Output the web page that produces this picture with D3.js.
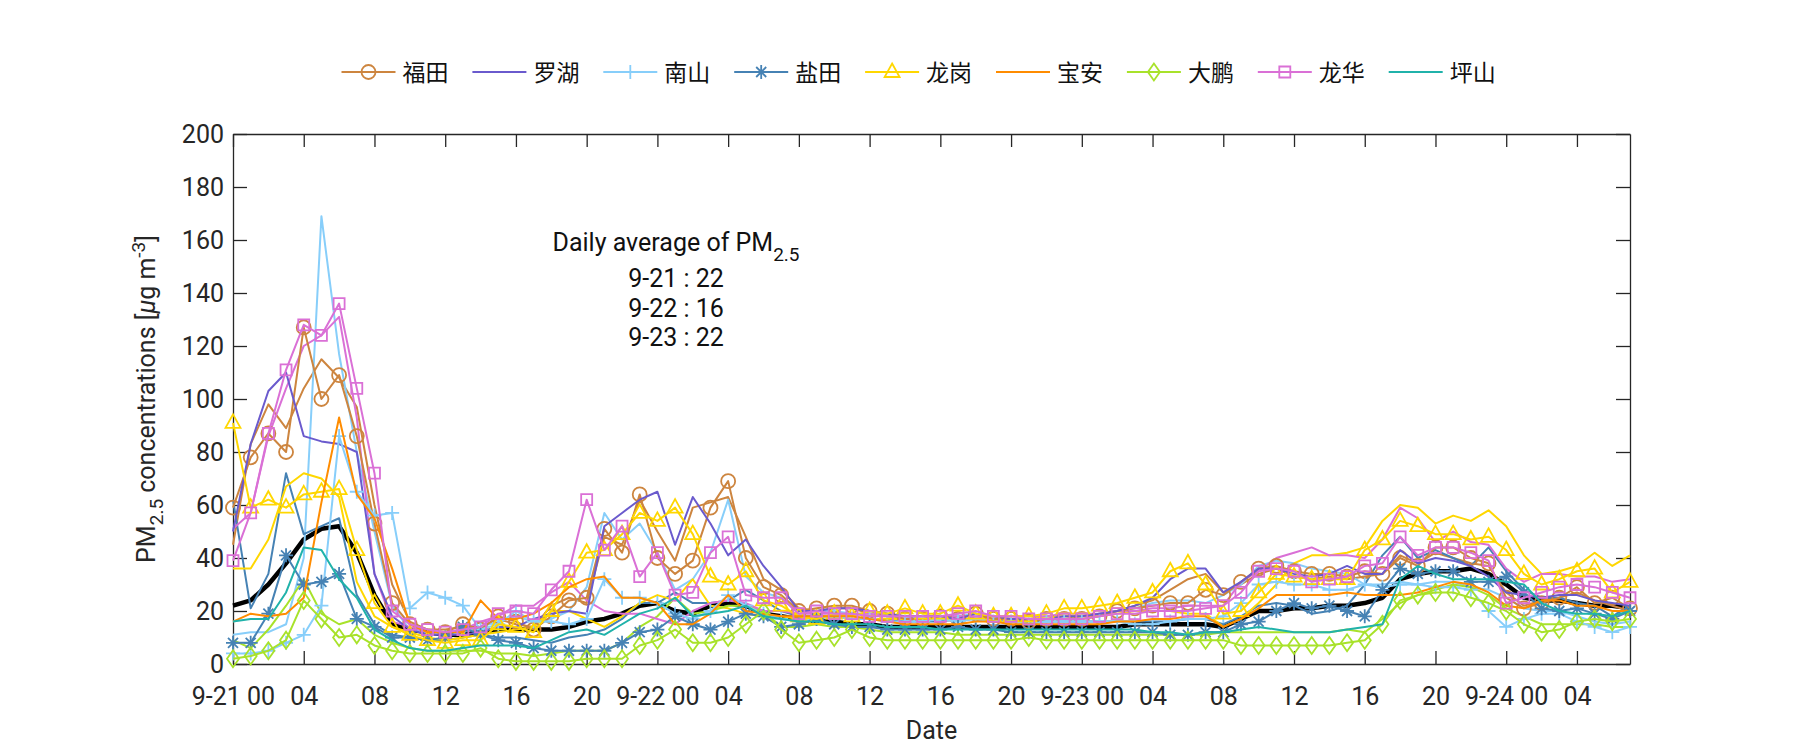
<!DOCTYPE html>
<html><head><meta charset="utf-8">
<script src="https://cdn.jsdelivr.net/npm/d3@7"></script>
<style>body{margin:0;background:#fff}</style>
</head><body>
<svg id="chart" width="1800" height="750"></svg>
<script>
// ---------- data ----------
const hourTicks = [0,4,8,12,16,20,24,28,32,36,40,44,48,52,56,60,64,68,72,76];
const tickLabels = ["9-21 00","04","08","12","16","20","9-22 00","04","08","12","16","20","9-23 00","04","08","12","16","20","9-24 00","04"];
const yTicks = [0,20,40,60,80,100,120,140,160,180,200];
const districts = ["福田","罗湖","南山","盐田","龙岗","宝安","大鹏","龙华","坪山"];
const dailyAvg = [["9-21",22],["9-22",16],["9-23",22]];

const futianA = [59,78,87,80,127,100,109,86,53,23,15,13, 12,15,13,18,16,
 13,18,24,25,51,42,64,40,34,39,59,69,40,29,26,20,21,
 22,22,20,19,17,17,18,17,19,17,17,16,17,17,
 17,18,20,21,22,23,23,28,26,31,36,37,35,34,34,33,
 35,34,40,37,44,44,40,38,25,21,23,25,29,23,25,21];
const futianB = [45,83,98,89,104,115,108,97,60,30,16,13, 13,14,14,17,15,
 14,22,25,23,48,45,62,50,39,59,61,63,48,32,28,21,20,
 21,21,19,18,17,17,17,16,18,17,16,16,17,17,
 18,19,20,22,24,28,32,34,27,30,34,36,33,32,33,32,
 33,34,41,38,42,40,38,37,27,22,24,25,27,24,22,20];
const luohu = [50,83,103,110,86,84,83,80,34,18,13,11, 11,11,12,14,14,
 17,19,20,19,52,57,62,65,45,63,53,41,47,37,29,20,20,
 21,21,20,19,18,18,18,17,19,18,17,17,17,18,
 18,19,20,22,25,32,36,36,27,31,36,36,34,33,34,37,
 34,34,43,38,40,39,37,33,27,26,25,26,26,24,23,22];
const nanshanA = [4,4,5,8,11,22,86,65,56,57,21,27, 25,22,13,15,20,
 16,16,15,17,32,25,25,23,19,17,20,26,22,19,17,16,17,
 18,17,17,16,16,16,17,16,17,16,16,15,16,16,
 16,16,16,15,15,16,17,17,18,23,30,31,30,30,28,28,
 30,29,30,30,29,29,28,20,14,17,19,19,16,14,12,14];
const nanshanB = [11,12,12,15,40,169,117,80,50,22,13,12, 11,12,14,16,18,
 16,17,20,29,57,47,53,42,28,32,42,62,33,27,25,19,20,
 20,19,19,18,18,17,18,18,19,18,17,17,18,18,
 18,19,20,21,23,24,24,23,26,30,37,39,38,36,35,34,
 30,30,31,30,31,31,29,28,25,21,20,20,18,16,15,16];
const yantianA = [8,8,19,41,30,31,34,17,14,10,10,9, 10,14,11,9,8,
 6,5,5,5,5,8,12,13,18,15,13,16,19,18,14,15,17,
 15,14,14,13,13,13,13,14,13,13,12,12,12,12,
 12,12,12,12,12,11,11,12,12,15,16,20,23,21,22,20,
 18,28,36,34,35,35,31,31,33,27,21,20,21,19,17,20];
const yantianB = [62,21,34,72,49,52,55,26,15,11,10,9, 9,10,11,10,10,
 9,8,10,11,13,17,23,23,27,23,23,24,28,24,20,18,18,
 18,17,17,17,16,16,16,17,17,16,16,16,16,16,
 16,16,16,16,16,16,17,17,15,18,22,23,22,19,20,22,
 30,41,48,40,43,40,37,44,35,28,25,25,23,22,18,22];
const longgangA = [91,59,62,59,64,65,66,43,23,14,11,9, 8,9,9,15,14,
 12,20,31,42,43,49,57,54,59,49,33,30,35,24,22,18,17,
 19,18,20,19,21,19,19,22,19,18,18,18,19,21,
 21,22,23,25,27,35,38,30,19,20,27,34,33,32,32,32,
 43,47,54,52,49,49,47,48,43,34,30,32,35,36,27,31];
const longgangB = [36,36,47,67,72,70,63,31,18,14,12,10, 9,10,11,12,13,
 14,20,20,17,14,18,23,26,24,32,22,21,19,18,18,17,17,
 18,18,17,17,17,17,17,17,17,17,17,17,18,18,
 18,18,19,20,20,20,19,19,14,17,23,30,38,41,41,42,
 44,54,60,59,53,56,54,58,52,41,34,35,37,42,37,41];
const baoan = [16,19,18,19,25,61,93,64,55,36,15,12, 12,12,24,17,17,
 19,23,29,32,33,25,25,23,15,15,19,26,20,19,18,18,18,
 18,18,17,16,15,15,15,15,16,16,15,15,15,15,
 15,15,16,16,17,17,18,18,14,17,21,26,26,26,26,27,
 26,26,26,27,29,31,30,27,22,21,24,24,22,22,20,20];
const dapengA = [2,3,5,9,24,17,10,11,7,5,4,4, 4,4,6,2,1,
 1,1,1,2,2,2,7,9,13,8,8,10,15,20,13,8,9,
 10,13,10,9,9,9,9,9,9,9,9,10,9,9,
 9,9,9,9,9,9,9,9,9,7,7,7,7,7,7,8,
 9,15,24,26,27,27,25,23,20,15,12,13,16,17,16,17];
const dapengB = [9,6,13,22,32,19,15,17,11,8,6,5, 5,5,5,4,4,
 3,4,5,5,5,8,14,18,25,19,20,22,22,20,14,14,15,
 14,14,13,12,12,12,12,11,11,11,11,11,11,11,
 11,11,11,11,11,11,11,11,12,12,12,12,12,12,12,13,
 12,17,23,26,28,30,29,26,21,18,15,15,15,15,14,14];
const longhuaA = [39,57,87,111,128,124,136,104,72,20,15,13, 12,13,14,19,20,
 19,28,35,62,43,52,33,42,26,27,42,48,26,25,25,19,20,
 19,19,18,18,18,18,18,19,20,18,18,17,17,17,
 17,18,19,19,20,20,20,21,22,27,35,36,35,31,32,33,
 37,38,48,41,44,44,42,39,23,25,27,29,30,29,27,25];
const longhuaB = [51,57,86,104,120,124,131,93,34,16,14,12, 12,13,16,18,22,
 22,27,31,24,20,19,19,17,15,20,23,24,23,20,20,19,19,
 19,19,19,18,18,18,18,18,18,18,18,18,18,19,
 19,19,20,20,21,21,22,22,22,31,35,40,42,44,41,41,
 40,47,59,55,46,50,46,45,36,31,34,34,33,33,31,32];
const pingshan = [16,17,17,27,44,43,32,25,13,9,6,5, 5,6,7,7,7,
 6,9,12,13,11,15,19,21,25,18,19,20,22,18,17,16,16,
 15,15,15,14,14,14,13,13,13,13,13,13,13,13,
 13,13,13,13,12,12,11,12,12,13,14,13,12,12,12,13,
 14,15,32,37,34,32,32,32,31,30,23,20,19,19,18,20];
const average = [22,24,30,38,47,51,52,42,26,15,13,12, 11,11,12,13,13,
 13,13,14,16,17,19,22,23,20,19,22,23,22,19,18,17,16,
 16,15,15,14,14,14,14,14,14,14,14,14,14,14,
 14,14,14,15,15,15,15,15,14,17,20,20,21,21,22,22,
 23,25,32,34,35,35,36,34,30,25,24,24,23,22,22,21];

// ---------- styles ----------
const colors = {"福田":"#CD853F","罗湖":"#6A5ACD","南山":"#87CEFA","盐田":"#4682B4","龙岗":"#FFD700",
  "宝安":"#FF8C00","大鹏":"#A8E22A","龙华":"#DA70D6","坪山":"#20B2AA"};
const markerOf = {"福田":"circle","罗湖":null,"南山":"plus","盐田":"star","龙岗":"triangle",
  "宝安":null,"大鹏":"diamond","龙华":"square","坪山":null};
const markerPaths = {
  circle: "M7,0A7,7 0 1,1 -7,0A7,7 0 1,1 7,0Z",
  plus: "M-7,0H7M0,-7V7",
  star: "M-7,0H7M0,-7V7M-5,-5L5,5M-5,5L5,-5",
  triangle: "M0,-8.5L7.5,5L-7.5,5Z",
  diamond: "M0,-8.5L6,0L0,8.5L-6,0Z",
  square: "M-5.5,-5.5H5.5V5.5H-5.5Z"
};

const mainSeries = [
  {d:"福田", v:futianA}, {d:"罗湖", v:luohu}, {d:"南山", v:nanshanA}, {d:"盐田", v:yantianA},
  {d:"龙岗", v:longgangA}, {d:"宝安", v:baoan}, {d:"大鹏", v:dapengA}, {d:"龙华", v:longhuaA}, {d:"坪山", v:pingshan}
];
const extraSeries = [
  {d:"福田", v:futianB}, {d:"南山", v:nanshanB}, {d:"盐田", v:yantianB},
  {d:"龙岗", v:longgangB}, {d:"大鹏", v:dapengB}, {d:"龙华", v:longhuaB}
];

// ---------- chart ----------
const svg = d3.select("#chart");
const FONT = "Roboto, 'Noto Sans', sans-serif";
const CJK = "'Noto Sans CJK SC', sans-serif";
const AX = "#262626";
const FS = 25;
const L = 233, R = 1630, T = 134, B = 664;
const x = d3.scaleLinear().domain([0, 79]).range([L, R]);
const y = d3.scaleLinear().domain([0, 200]).range([B, T]);

// axes
const axes = svg.append("g").attr("font-family", FONT);
axes.append("g").attr("transform", `translate(0,${B})`)
  .call(d3.axisBottom(x).tickValues(hourTicks).tickFormat((d,i)=>tickLabels[i])
    .tickSizeInner(-13).tickSizeOuter(0).tickPadding(23));
axes.append("g").attr("transform", `translate(0,${T})`)
  .call(d3.axisTop(x).tickValues(hourTicks).tickFormat("").tickSizeInner(-13).tickSizeOuter(0));
axes.append("g").attr("transform", `translate(${L},0)`)
  .call(d3.axisLeft(y).tickValues(yTicks).tickSizeInner(-14).tickSizeOuter(0).tickPadding(9));
axes.append("g").attr("transform", `translate(${R},0)`)
  .call(d3.axisRight(y).tickValues(yTicks).tickFormat("").tickSizeInner(-14).tickSizeOuter(0));
axes.selectAll("path.domain, line").attr("stroke", AX).attr("stroke-width", 1.3);
axes.selectAll("text").attr("fill", AX).attr("font-size", FS).attr("font-family", FONT);

// lines
const line = d3.line().x((d,i)=>x(i)).y(d=>y(d));
const plot = svg.append("g");

plot.append("path").datum(average).attr("d", line)
  .attr("fill","none").attr("stroke","#000").attr("stroke-width",4.5).attr("stroke-linejoin","round");

function drawSeries(s, withMarker) {
  const c = colors[s.d];
  plot.append("path").datum(s.v).attr("d", line)
    .attr("fill","none").attr("stroke", c).attr("stroke-width", 2).attr("stroke-linejoin","round");
  const m = markerOf[s.d];
  if (withMarker && m) {
    plot.append("g").selectAll("path").data(s.v).join("path")
      .attr("transform",(d,i)=>`translate(${x(i)},${y(d)})`)
      .attr("d", markerPaths[m]).attr("fill","none").attr("stroke", c).attr("stroke-width", 1.8);
  }
}
extraSeries.forEach(s => drawSeries(s, false));
mainSeries.forEach(s => drawSeries(s, true));

// legend
const leg = svg.append("g");
districts.forEach((d, i) => {
  const cx = 368.5 + 130.9 * i, cy = 72;
  const g = leg.append("g");
  g.append("line").attr("x1", cx-27).attr("x2", cx+27).attr("y1", cy).attr("y2", cy)
    .attr("stroke", colors[d]).attr("stroke-width", 2);
  if (markerOf[d]) g.append("path").attr("transform",`translate(${cx},${cy})`).attr("d", markerPaths[markerOf[d]])
    .attr("fill","none").attr("stroke", colors[d]).attr("stroke-width",1.8);
  g.append("text").attr("x", cx+34).attr("y", cy).attr("dy","0.37em")
    .attr("font-family", CJK).attr("font-size", 23).attr("fill","#111").text(d);
});

// annotation
const ann = svg.append("g").attr("font-family", FONT).attr("font-size", FS).attr("fill", "#111").attr("text-anchor","middle");
const t1 = ann.append("text").attr("x", 676).attr("y", 251);
t1.append("tspan").text("Daily average of PM");
t1.append("tspan").attr("dy", 10).attr("font-size", 19).text("2.5");
dailyAvg.forEach((r, i) => {
  ann.append("text").attr("x", 676).attr("y", 287 + i*29.5).text(`${r[0]} : ${r[1]}`);
});

// axis labels
const yl = svg.append("text").attr("transform","translate(155,399) rotate(-90)")
  .attr("text-anchor","middle").attr("font-family", FONT).attr("font-size", FS).attr("fill", AX);
yl.append("tspan").text("PM");
yl.append("tspan").attr("dy", 8).attr("font-size", 19).text("2.5");
yl.append("tspan").attr("dy", -8).text(" concentrations [");
yl.append("tspan").attr("font-style","italic").text("μ");
yl.append("tspan").text("g m");
yl.append("tspan").attr("dy", -10).attr("font-size", 19).text("-3");
yl.append("tspan").attr("dy", 10).text("]");

svg.append("text").attr("x", (L+R)/2).attr("y", 739).attr("text-anchor","middle")
  .attr("font-family", FONT).attr("font-size", FS).attr("fill", AX).text("Date");
</script>
</body></html>
